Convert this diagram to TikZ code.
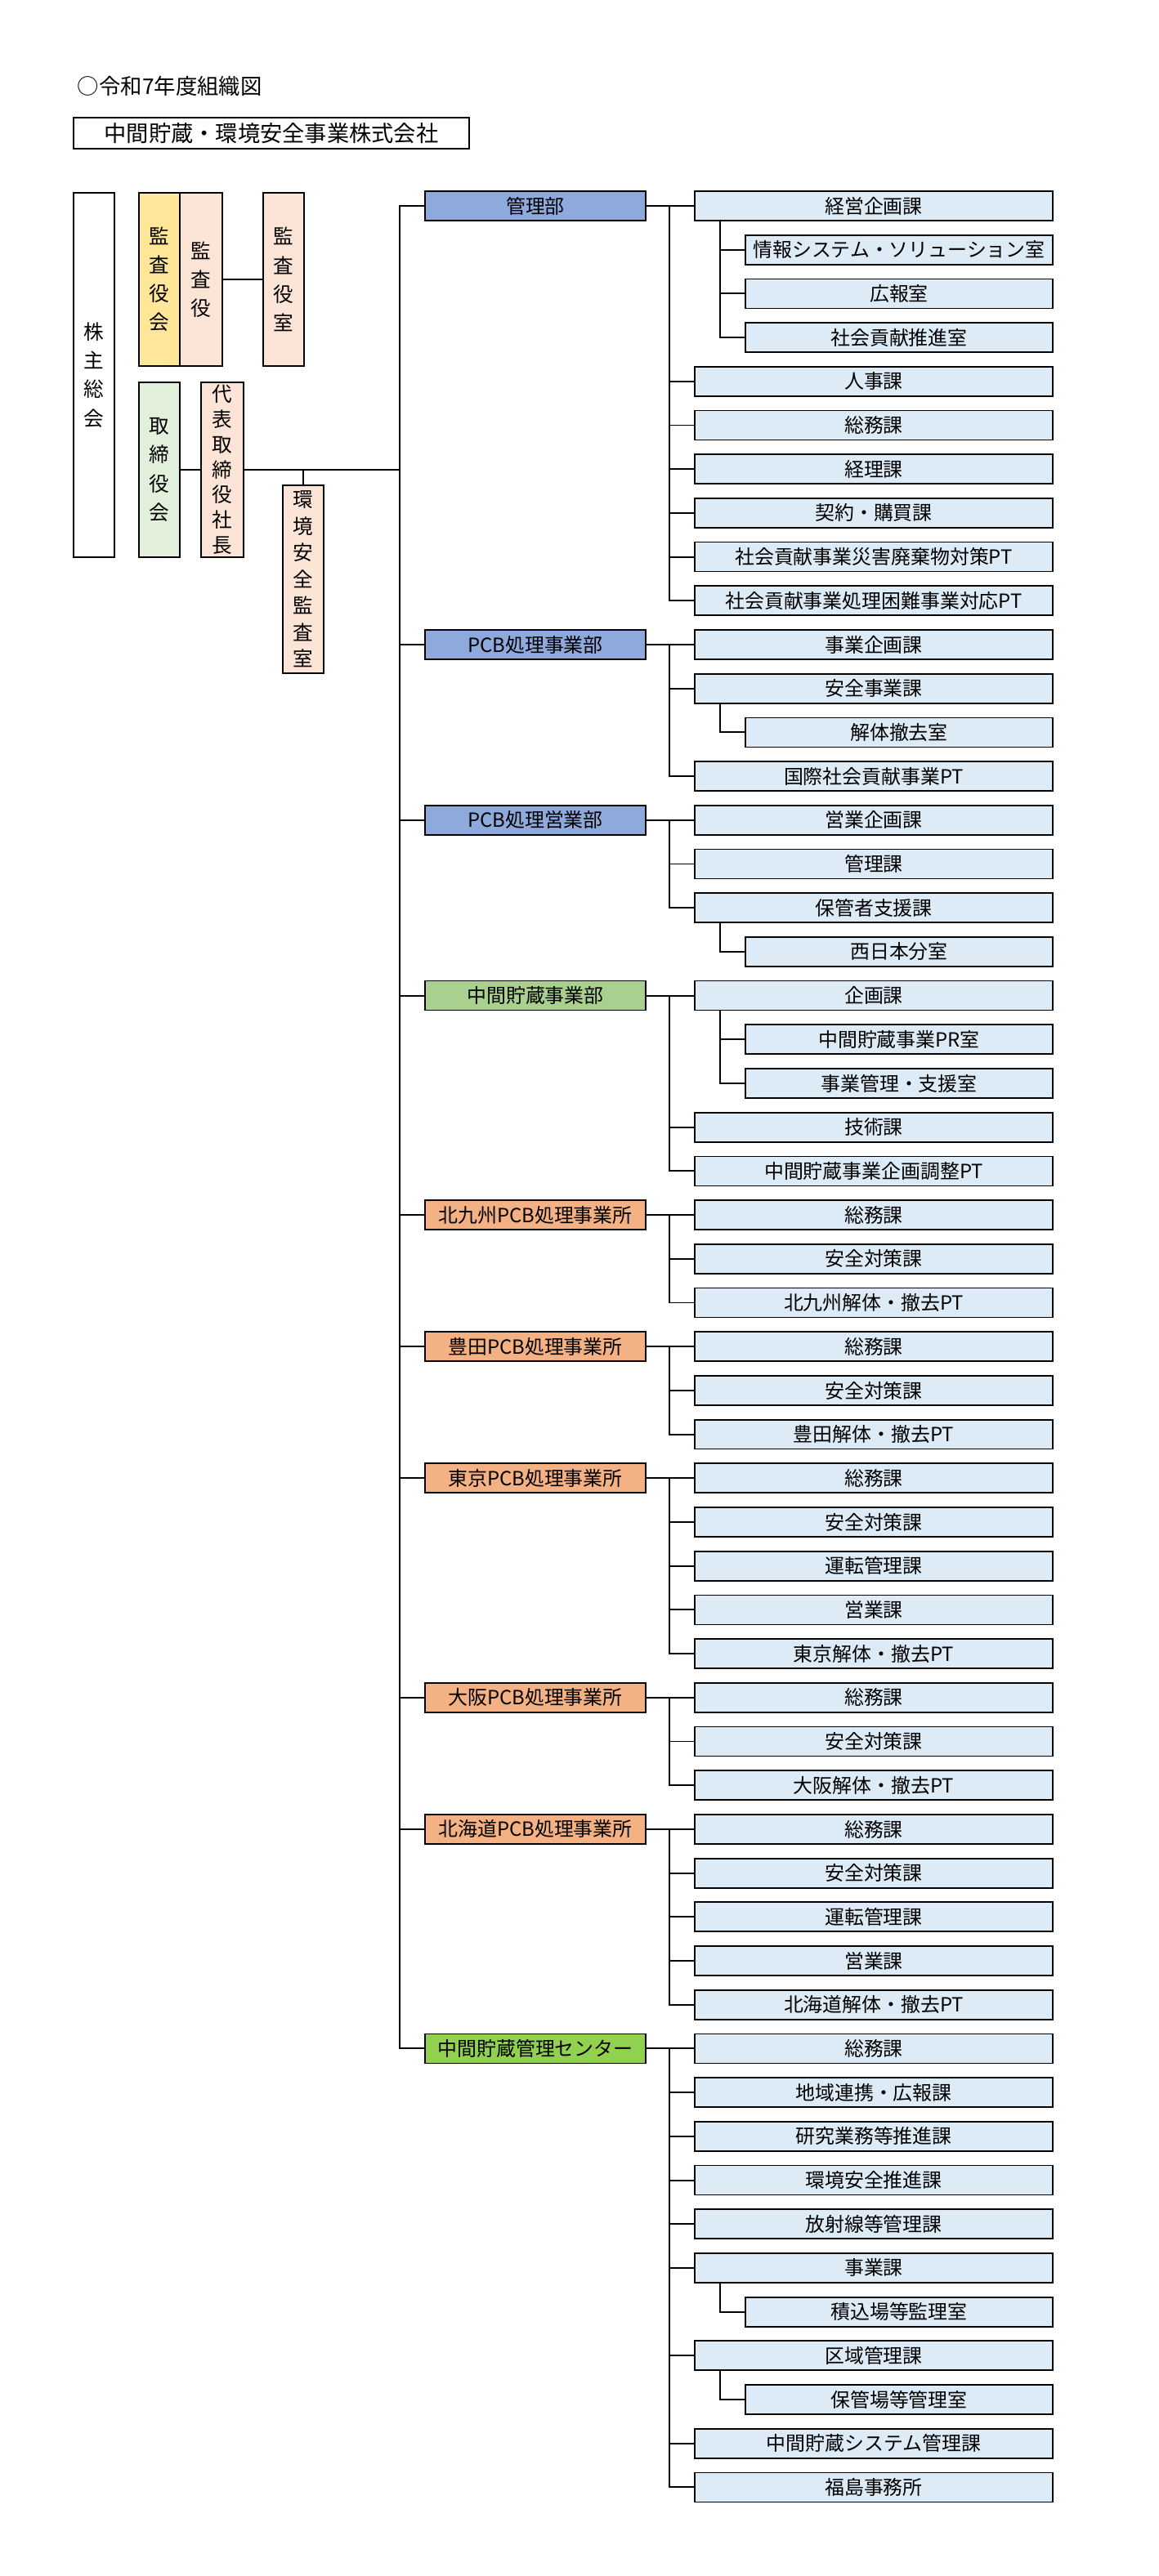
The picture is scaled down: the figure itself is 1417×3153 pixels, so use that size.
\documentclass[tikz,border=0pt]{standalone}
\usepackage{fontspec}
\setmainfont{Noto Sans CJK JP}
\begin{document}
\begin{tikzpicture}[x=0.02cm, y=-0.02cm, line width=1.1pt,
    box/.style={draw, line width=1pt, minimum height=0.72cm, inner sep=0pt,
      font=\fontsize{13.6}{16}\selectfont},
    dept/.style={box, minimum width=5.4cm},
    sect/.style={box, fill=secblue, minimum width=8.76cm},
    room/.style={box, fill=secblue, minimum width=7.52cm},
    tate/.style={draw, line width=1pt, minimum width=1cm, inner sep=0pt, align=center,
      font=\fontsize{14}{20}\selectfont}
    ]
    \definecolor{secblue}{HTML}{DDEBF7}
    \definecolor{deptblue}{HTML}{8EA9DB}
    \definecolor{deptgreen}{HTML}{A9D08E}
    \definecolor{officeorange}{HTML}{F4B183}
    \definecolor{centergreen}{HTML}{92D050}
    \definecolor{auditpeach}{HTML}{FCE4D6}
    \definecolor{audityellow}{HTML}{FFE699}
    \definecolor{boardgreen}{HTML}{E2EFDA}
    \useasboundingbox (0,0) rectangle (1417,3153);

    % Title and company
    \node[anchor=west, inner sep=0pt, font=\fontsize{15}{18}\selectfont] (title) at (94,106) {○令和7年度組織図};
    \node[draw, line width=1pt, minimum width=9.68cm, minimum height=0.76cm, inner sep=0pt,
      font=\fontsize{15.5}{18}\selectfont] (company) at (332,163) {中間貯蔵・環境安全事業株式会社};

    % Top management
    \node[tate, minimum height=8.92cm] (meeting) at (115,459) {株\\主\\総\\会};
    \node[tate, fill=audityellow, minimum height=4.24cm] (auditboard) at (195,342) {監\\査\\役\\会};
    \node[tate, fill=auditpeach, minimum height=4.24cm, minimum width=1.04cm] (auditor) at (246,342) {監\\査\\役};
    \node[tate, fill=auditpeach, minimum height=4.24cm] (auditoffice) at (347,342) {監\\査\\役\\室};
    \node[tate, fill=boardgreen, minimum height=4.28cm] (board) at (195,575) {取\\締\\役\\会};
    \node[tate, fill=auditpeach, minimum height=4.28cm, minimum width=1.04cm,
      font=\fontsize{14}{17.5}\selectfont] (president) at (272,575) {代\\表\\取\\締\\役\\社\\長};
    \node[tate, fill=auditpeach, minimum height=4.6cm,
      font=\fontsize{14}{18.5}\selectfont] (envaudit) at (371,709) {環\\境\\安\\全\\監\\査\\室};
    \coordinate (bus) at (490,575);
    \draw (auditor.east) -- (auditoffice.west);
    \draw (board.east) -- (president.west);
    \draw (president.east) -- (bus);
    \draw (envaudit.north) -- (envaudit.north |- president.east);

    % Sections and rooms
    \foreach \r/\t/\lv in {
      0/経営企画課/1, 1/情報システム・ソリューション室/2, 2/広報室/2, 3/社会貢献推進室/2,
      4/人事課/1, 5/総務課/1, 6/経理課/1, 7/契約・購買課/1,
      8/社会貢献事業災害廃棄物対策PT/1, 9/社会貢献事業処理困難事業対応PT/1,
      10/事業企画課/1, 11/安全事業課/1, 12/解体撤去室/2, 13/国際社会貢献事業PT/1,
      14/営業企画課/1, 15/管理課/1, 16/保管者支援課/1, 17/西日本分室/2,
      18/企画課/1, 19/中間貯蔵事業PR室/2, 20/事業管理・支援室/2, 21/技術課/1,
      22/中間貯蔵事業企画調整PT/1,
      23/総務課/1, 24/安全対策課/1, 25/北九州解体・撤去PT/1,
      26/総務課/1, 27/安全対策課/1, 28/豊田解体・撤去PT/1,
      29/総務課/1, 30/安全対策課/1, 31/運転管理課/1, 32/営業課/1, 33/東京解体・撤去PT/1,
      34/総務課/1, 35/安全対策課/1, 36/大阪解体・撤去PT/1,
      37/総務課/1, 38/安全対策課/1, 39/運転管理課/1, 40/営業課/1, 41/北海道解体・撤去PT/1,
      42/総務課/1, 43/地域連携・広報課/1, 44/研究業務等推進課/1, 45/環境安全推進課/1,
      46/放射線等管理課/1, 47/事業課/1, 48/積込場等監理室/2, 49/区域管理課/1,
      50/保管場等管理室/2, 51/中間貯蔵システム管理課/1, 52/福島事務所/1}
    {
      \ifnum\lv=1
        \node[sect] (r\r) at (1069,252+53.7*\r) {\t};
      \else
        \node[room] (r\r) at (1100,252+53.7*\r) {\t};
      \fi
    }

    % Departments
    \foreach \d/\r/\t/\c in {0/0/管理部/deptblue, 1/10/PCB処理事業部/deptblue,
      2/14/PCB処理営業部/deptblue, 3/18/中間貯蔵事業部/deptgreen,
      4/23/北九州PCB処理事業所/officeorange, 5/26/豊田PCB処理事業所/officeorange,
      6/29/東京PCB処理事業所/officeorange, 7/34/大阪PCB処理事業所/officeorange,
      8/37/北海道PCB処理事業所/officeorange, 9/42/中間貯蔵管理センター/centergreen}
    {
      \node[dept, fill=\c] (d\d) at (655,252+53.7*\r) {\t};
      \draw (d\d.east) -- (r\r.west);
      \draw (d0.west) -- ++(-30,0) |- (d\d.west);
    }

    % Section branches
    \foreach \f/\list in {0/{4,5,6,7,8,9}, 10/{11,13}, 14/{15,16}, 18/{21,22},
      23/{24,25}, 26/{27,28}, 29/{30,31,32,33}, 34/{35,36}, 37/{38,39,40,41},
      42/{43,44,45,46,47,49,51,52}}
      \foreach \a in \list
        \draw (r\f.west) ++(-30,0) |- (r\a.west);

    % Room branches
    \foreach \p/\b in {0/1, 0/2, 0/3, 11/12, 16/17, 18/19, 18/20, 47/48, 49/50}
      \draw (r\p.south west) ++(32,0) |- (r\b.west);
\end{tikzpicture}
\end{document}
